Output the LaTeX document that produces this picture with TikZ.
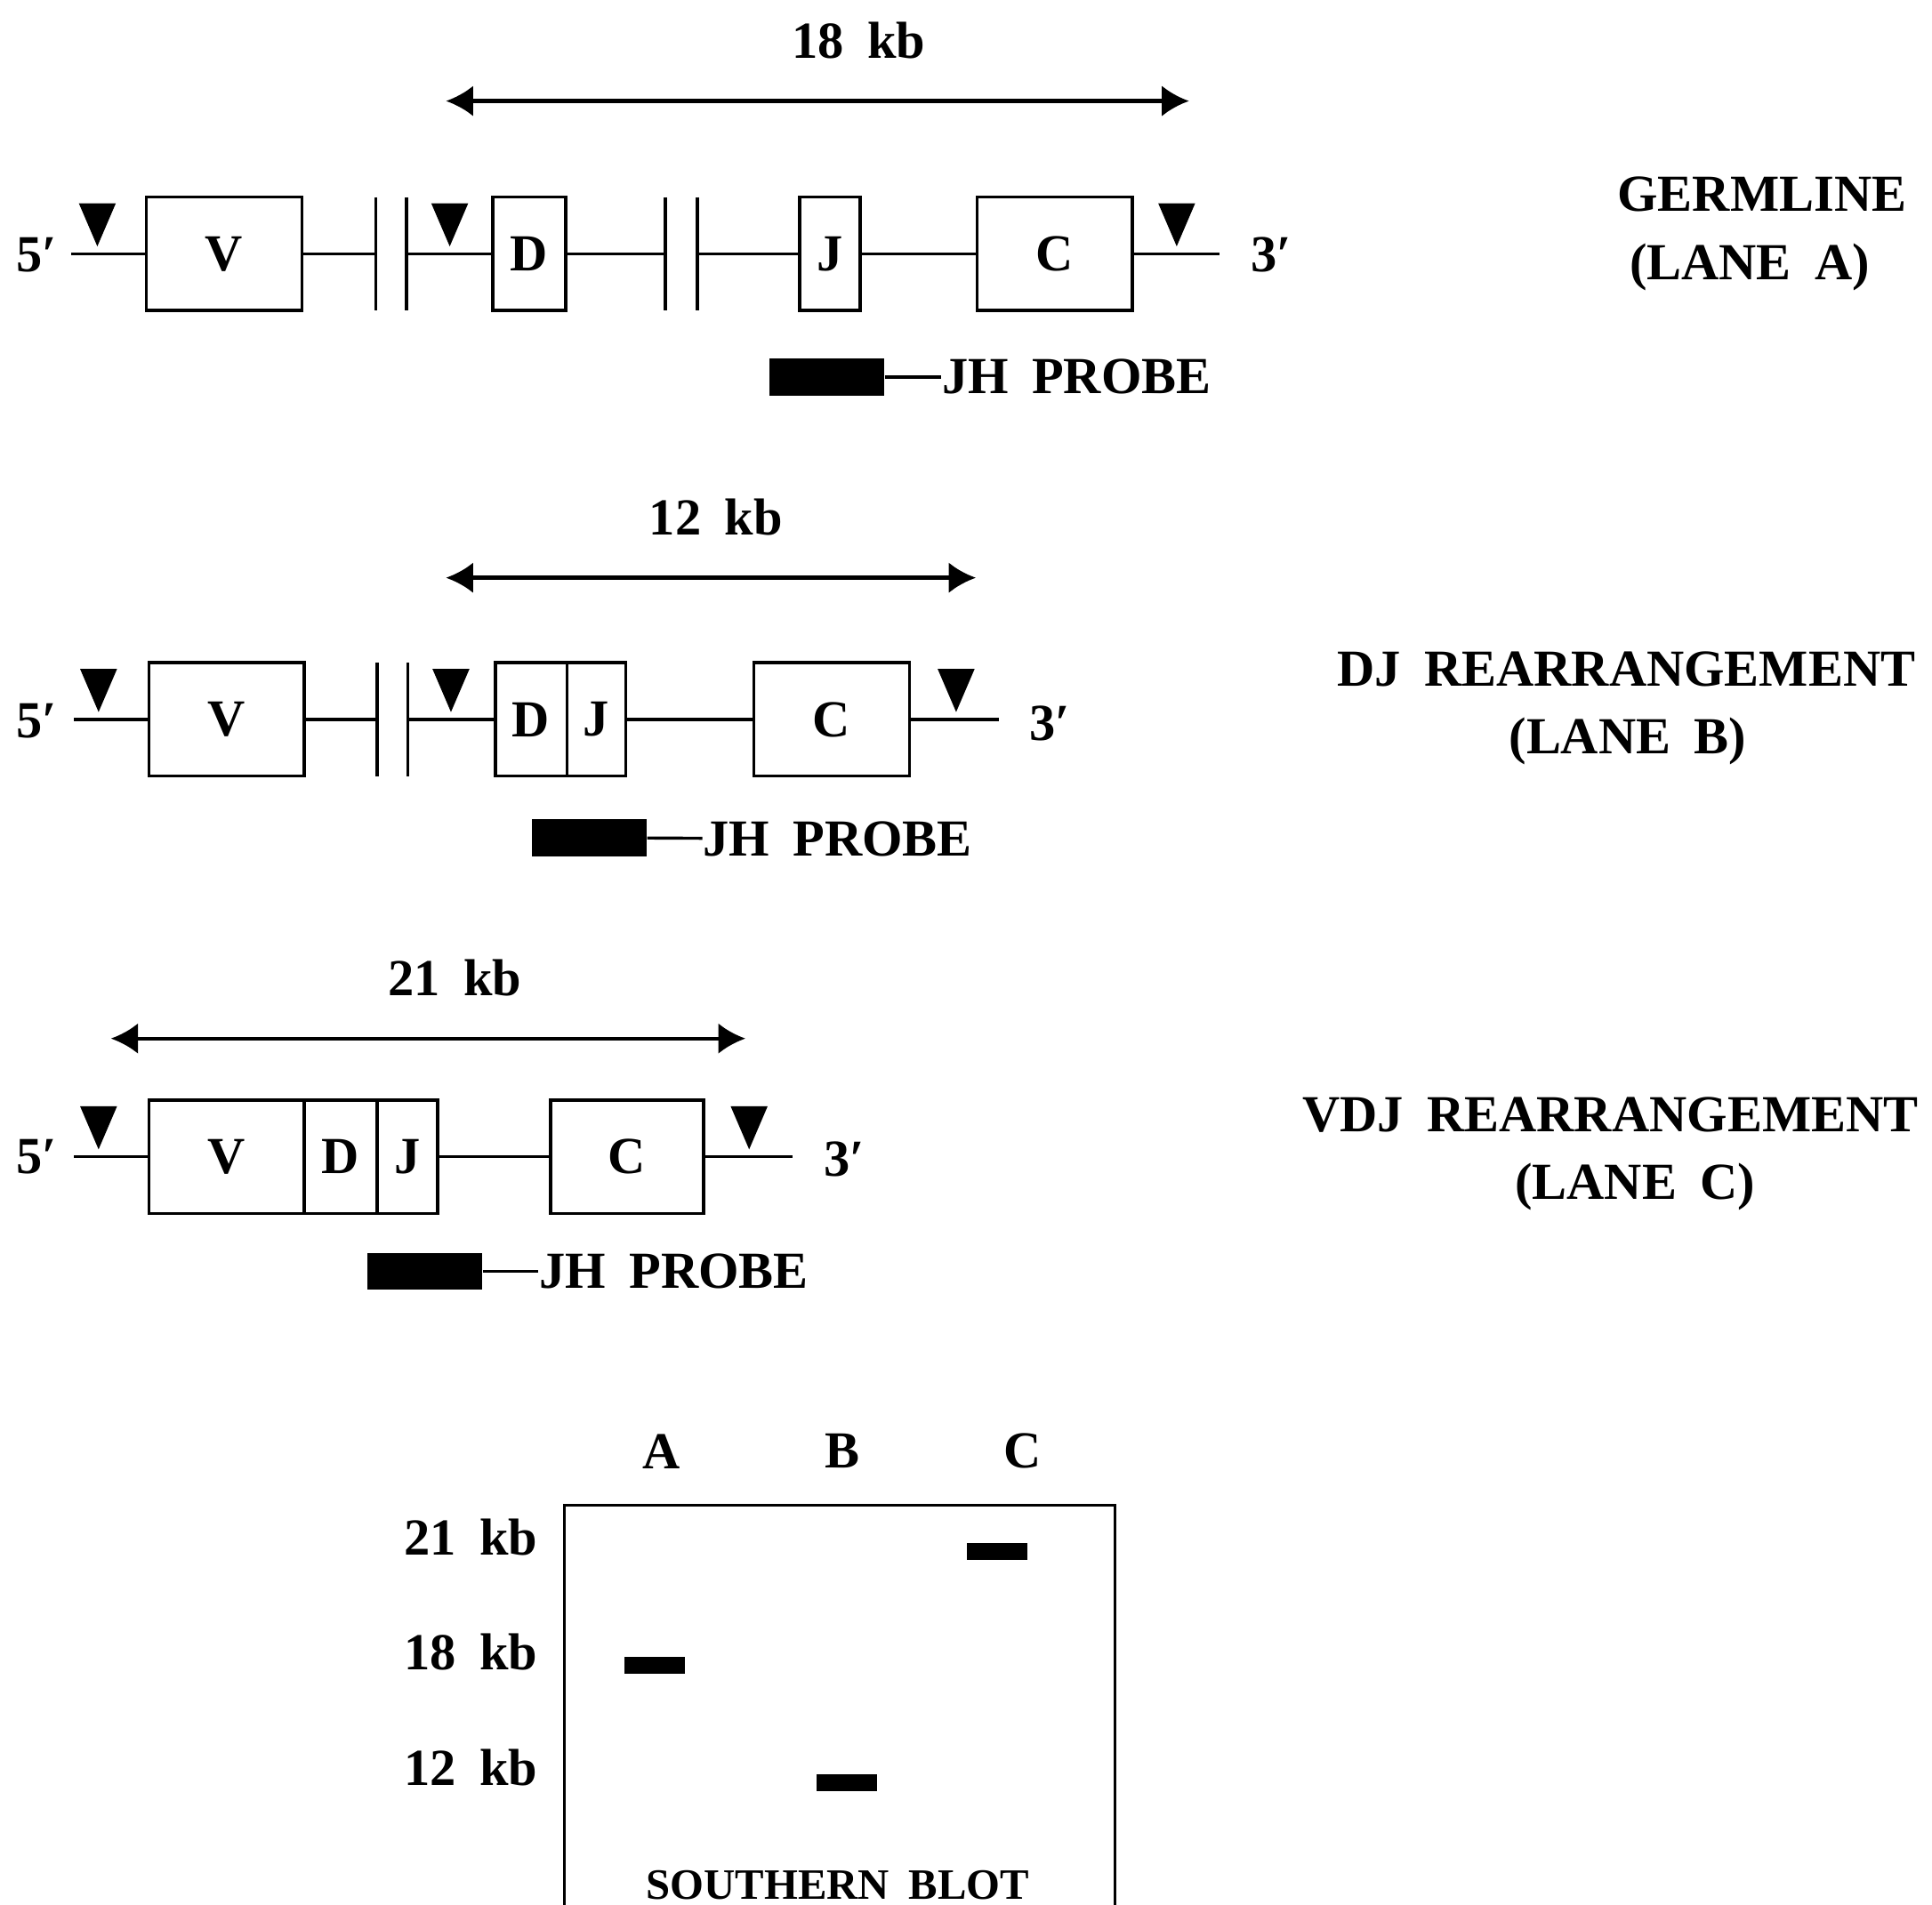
\documentclass[tikz,border=0pt]{standalone}
\usepackage{fontspec}
\setmainfont{Liberation Serif}[WordSpace=1.8]
\usetikzlibrary{arrows.meta,positioning}
\tikzset{%
	gene/.style  = {draw, rectangle, inner sep=0pt, minimum height=0.92cm, line width=0.7pt},
	probe/.style = {fill=black, rectangle, inner sep=0pt, minimum width=0.93cm, minimum height=0.30cm},
	band/.style  = {fill=black, rectangle, inner sep=0pt, minimum width=0.49cm, minimum height=0.14cm},
	lbl/.style   = {inner sep=0pt},
	span/.style  = {line width=0.9pt, {Latex[length=0.22cm,width=0.25cm]}-{Latex[length=0.22cm,width=0.25cm]}},
	dna/.style   = {line width=0.7pt},
}
\newcommand{\cutsite}[1]{\fill (#1) ++(-15,-41) -- ++(30,0) -- ++(-15,35) -- cycle;}
\newcommand{\gapmark}[1]{\draw[dna] (#1) ++(0,-46) -- ++(0,92);}

\begin{document}
\begin{tikzpicture}[x=0.01cm, y=-0.01cm, font=\fontsize{12}{14}\selectfont\bfseries]
		\useasboundingbox (0,0) rectangle (1568,1546);
		% germline
		\node[lbl] (kbA) at (697,33) {18 kb};
		\coordinate (sA0) at (362,82);
		\coordinate (sA1) at (965,82);
		\draw[span] (sA0) -- (sA1);
		\node[lbl] (p5A) at (30,207) {5′};
		\coordinate (a0) at (58,206);
		\node[gene, minimum width=1.26cm] (vA) at (182,206) {V};
		\coordinate (gA1) at (305,206);
		\coordinate (gA2) at (330,206);
		\node[gene, minimum width=0.59cm] (dA) at (429.5,206) {D};
		\coordinate (gA3) at (540,206);
		\coordinate (gA4) at (566,206);
		\node[gene, minimum width=0.49cm] (jA) at (673.5,206) {J};
		\node[gene, minimum width=1.26cm] (cA) at (856,206) {C};
		\coordinate (a1) at (990,206);
		\node[lbl] (p3A) at (1032,207) {3′};
		\draw[dna] (a0) -- (vA) (vA) -- (gA1) (gA2) -- (dA) (dA) -- (gA3) (gA4) -- (jA) (jA) -- (cA) (cA) -- (a1);
		\gapmark{gA1} \gapmark{gA2} \gapmark{gA3} \gapmark{gA4}
		\cutsite{79,206} \cutsite{365,206} \cutsite{955,206}
		\node[probe] (prA) at (671,306) {};
		\node[lbl, anchor=west] (jhA) at (764,306) {JH PROBE};
		\draw[dna] (prA) -- (jhA);
		\node[lbl] (tA1) at (1430,158) {GERMLINE};
		\node[lbl] (tA2) at (1420,217) {(LANE A)};
		% DJ
		\node[lbl] (kbB) at (581,420) {12 kb};
		\coordinate (sB0) at (362,469);
		\coordinate (sB1) at (792,469);
		\draw[span] (sB0) -- (sB1);
		\node[lbl] (p5B) at (30,585) {5′};
		\coordinate (b0) at (60,584);
		\node[gene, minimum width=1.26cm] (vB) at (184,584) {V};
		\coordinate (gB1) at (306,584);
		\coordinate (gB2) at (331,584);
		\node[gene, minimum width=0.58cm] (dB) at (431,584) {D};
		\node[gene, minimum width=0.48cm, right=-0.7pt of dB] (jB) {J};
		\node[gene, minimum width=1.26cm] (cB) at (675,584) {C};
		\coordinate (b1) at (811,584);
		\node[lbl] (p3B) at (852,587) {3′};
		\draw[dna] (b0) -- (vB) (vB) -- (gB1) (gB2) -- (dB) (jB) -- (cB) (cB) -- (b1);
		\gapmark{gB1} \gapmark{gB2}
		\cutsite{80,584} \cutsite{366,584} \cutsite{776,584}
		\node[probe] (prB) at (478,680) {};
		\node[lbl, anchor=west] (jhB) at (570,681) {JH PROBE};
		\draw[dna] (prB) -- (jhB);
		\node[lbl] (tB1) at (1320,543) {DJ REARRANGEMENT};
		\node[lbl] (tB2) at (1321,602) {(LANE B)};
		% VDJ
		\node[lbl] (kbC) at (369,794) {21 kb};
		\coordinate (sC0) at (90,843);
		\coordinate (sC1) at (605,843);
		\draw[span] (sC0) -- (sC1);
		\node[lbl] (p5C) at (30,939) {5′};
		\coordinate (c0) at (60,939);
		\node[gene, minimum width=1.26cm] (vC) at (184,939) {V};
		\node[gene, minimum width=0.59cm, right=-0.7pt of vC] (dC) {D};
		\node[gene, minimum width=0.49cm, right=-0.7pt of dC] (jC) {J};
		\node[gene, minimum width=1.24cm] (cC) at (509,939) {C};
		\coordinate (c1) at (643,939);
		\node[lbl] (p3C) at (685,941) {3′};
		\draw[dna] (c0) -- (vC) (jC) -- (cC) (cC) -- (c1);
		\cutsite{80,939} \cutsite{608,939}
		\node[probe] (prC) at (345,1032) {};
		\node[lbl, anchor=west] (jhC) at (437,1032) {JH PROBE};
		\draw[dna] (prC) -- (jhC);
		\node[lbl] (tC1) at (1307,905) {VDJ REARRANGEMENT};
		\node[lbl] (tC2) at (1327,963) {(LANE C)};
		% southern blot
		\node[lbl] (laneA) at (537,1178) {A};
		\node[lbl] (laneB) at (684,1178) {B};
		\node[lbl] (laneC) at (830,1178) {C};
		\draw[dna] (458,1546) |- (905,1222) -- (905,1546);
		\node[lbl, anchor=east] (m21) at (437,1248) {21 kb};
		\node[lbl, anchor=east] (m18) at (437,1341) {18 kb};
		\node[lbl, anchor=east] (m12) at (437,1435) {12 kb};
		\node[band] (bandC) at (809.5,1259.5) {};
		\node[band] (bandA) at (531.5,1352) {};
		\node[band] (bandB) at (687,1447) {};
		\node[lbl, font=\fontsize{10}{12}\selectfont\bfseries] (blot) at (680,1530) {SOUTHERN BLOT};
\end{tikzpicture}
\end{document}
